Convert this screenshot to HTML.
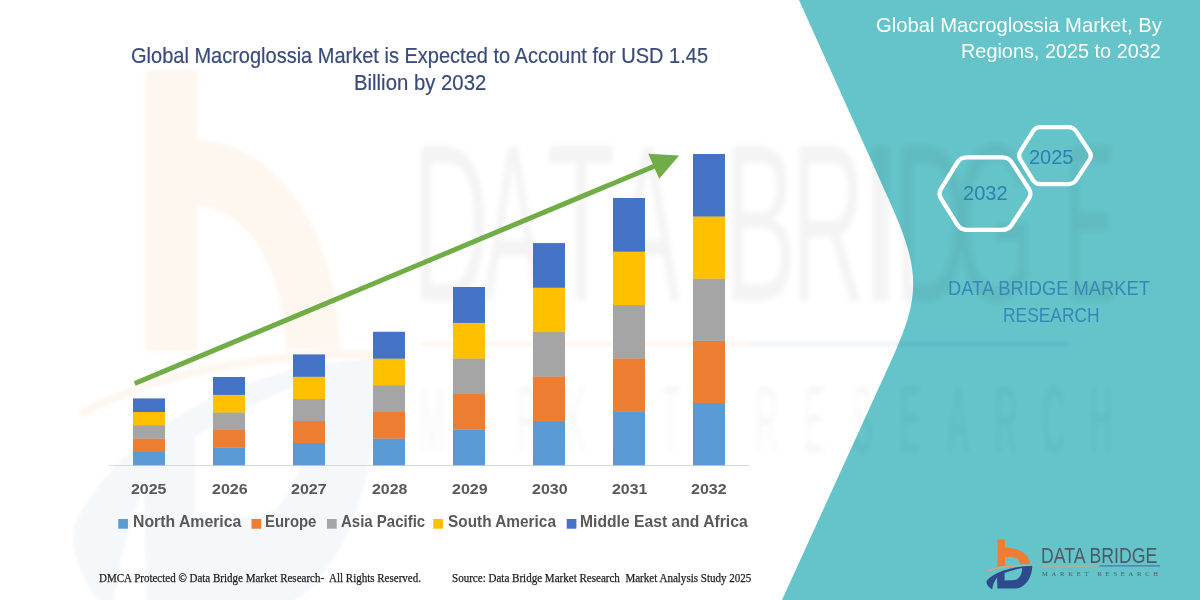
<!DOCTYPE html>
<html><head><meta charset="utf-8">
<style>
html,body{margin:0;padding:0;}
body{width:1200px;height:600px;position:relative;overflow:hidden;background:#fff;font-family:"Liberation Sans",sans-serif;}
.t{position:absolute;white-space:nowrap;line-height:1;transform-origin:0 0;}
svg{position:absolute;left:0;top:0;}
</style></head><body>
<svg width="1200" height="600" viewBox="0 0 1200 600">
  <defs>
    <g id="lb"><path d="M997.5,540.5 Q997.5,539.4 998.6,539.4 H1004 Q1005,539.4 1005,540.5 V547.8 C1013,547.5 1021,550 1026,555 C1028.5,558 1029.8,561 1030,564 L1020.2,564.3 C1019.5,560 1017,557.3 1012,557 L1005,556.9 V565.7 L997.5,566.4 Z"/></g>
    <g id="ls"><path d="M987.4,570.9 Q1006,565 1034.2,565.5" fill="none"/></g>
    <g id="ld"><path fill-rule="evenodd" d="M986.6,581 C993,573 1010,566.5 1032.2,565.8 C1032.3,573 1029.5,581 1023.5,585.5 C1021,587.6 1018.5,588.4 1016,588.4 L997.4,588.4 L997,577.5 C994.5,581 992.8,585 992.2,589.4 C988.5,587 986,584 986.6,581 Z M1004.6,572.9 C1010,571 1016,569 1022,567.9 C1022.5,572 1020.5,577 1016.7,579.6 C1014,580.4 1010,580.4 1004.6,580.4 Z"/></g>
    <filter id="bl" x="-10%" y="-10%" width="120%" height="120%"><feGaussianBlur stdDeviation="1.5"/></filter>
    <filter id="bl2" x="-10%" y="-10%" width="120%" height="120%"><feGaussianBlur stdDeviation="2.6"/></filter>
  </defs>
  <path d="M799,0 L889,200 C920.5,270 921.1,295 891.5,360 L782,600 L1200,600 L1200,0 Z" fill="#64c4c9"/>
  <g filter="url(#bl)"><path d="M145,76 Q145,70 151,70 H192 Q198,70 198,76 V140 A142,210 0 0 1 340,350 H285 A87,143 0 0 0 198,207 V352 H145 Z" fill="#ed7d31" fill-opacity="0.06"/></g>
  <g filter="url(#bl)"><g transform="translate(147.5,67.5) scale(6.7,11) translate(-997.5,-539.4)">
    
    <use href="#ls" stroke="#ed7d31" stroke-opacity="0.06" stroke-width="0.8"/>
    <use href="#ld" fill="#2e4a8a" fill-opacity="0.045"/>
  </g></g>
  <g filter="url(#bl2)" fill="#000" fill-opacity="0.045"><text transform="translate(412.5,301) scale(0.474,1)" font-family="Liberation Sans" font-size="225">D</text><text transform="translate(483.0,301) scale(0.400,1)" font-family="Liberation Sans" font-size="225">A</text><text transform="translate(546.8,301) scale(0.498,1)" font-family="Liberation Sans" font-size="225">T</text><text transform="translate(616.0,301) scale(0.426,1)" font-family="Liberation Sans" font-size="225">A</text><text transform="translate(723.2,301) scale(0.491,1)" font-family="Liberation Sans" font-size="225">B</text><text transform="translate(790.7,301) scale(0.459,1)" font-family="Liberation Sans" font-size="225">R</text><text transform="translate(855.8,301) scale(0.800,1)" font-family="Liberation Sans" font-size="225">I</text><text transform="translate(893.7,301) scale(0.459,1)" font-family="Liberation Sans" font-size="225">D</text><text transform="translate(954.8,301) scale(0.459,1)" font-family="Liberation Sans" font-size="225">G</text><text transform="translate(1065.0,301) scale(0.333,1)" font-family="Liberation Sans" font-size="225">E</text><text transform="translate(432.0,452) scale(0.33,1)" text-anchor="middle" font-family="Liberation Sans" font-size="94" fill-opacity="0.03">M</text><text transform="translate(479.8,452) scale(0.33,1)" text-anchor="middle" font-family="Liberation Sans" font-size="94" fill-opacity="0.03">A</text><text transform="translate(527.6,452) scale(0.33,1)" text-anchor="middle" font-family="Liberation Sans" font-size="94" fill-opacity="0.03">R</text><text transform="translate(575.4,452) scale(0.33,1)" text-anchor="middle" font-family="Liberation Sans" font-size="94" fill-opacity="0.03">K</text><text transform="translate(623.2,452) scale(0.33,1)" text-anchor="middle" font-family="Liberation Sans" font-size="94" fill-opacity="0.03">E</text><text transform="translate(671.0,452) scale(0.33,1)" text-anchor="middle" font-family="Liberation Sans" font-size="94" fill-opacity="0.03">T</text><text transform="translate(766.6,452) scale(0.33,1)" text-anchor="middle" font-family="Liberation Sans" font-size="94" fill-opacity="0.03">R</text><text transform="translate(814.4,452) scale(0.33,1)" text-anchor="middle" font-family="Liberation Sans" font-size="94" fill-opacity="0.03">E</text><text transform="translate(862.2,452) scale(0.33,1)" text-anchor="middle" font-family="Liberation Sans" font-size="94" fill-opacity="0.03">S</text><text transform="translate(910.0,452) scale(0.33,1)" text-anchor="middle" font-family="Liberation Sans" font-size="94" fill-opacity="0.03">E</text><text transform="translate(957.8,452) scale(0.33,1)" text-anchor="middle" font-family="Liberation Sans" font-size="94" fill-opacity="0.03">A</text><text transform="translate(1005.6,452) scale(0.33,1)" text-anchor="middle" font-family="Liberation Sans" font-size="94" fill-opacity="0.03">R</text><text transform="translate(1053.4,452) scale(0.33,1)" text-anchor="middle" font-family="Liberation Sans" font-size="94" fill-opacity="0.03">C</text><text transform="translate(1101.2,452) scale(0.33,1)" text-anchor="middle" font-family="Liberation Sans" font-size="94" fill-opacity="0.03">H</text></g>
  <g filter="url(#bl)"><rect x="420" y="341" width="330" height="6" fill="#ed7d31" fill-opacity="0.06"/><rect x="750" y="341" width="320" height="6" fill="#2e4a8a" fill-opacity="0.05"/></g>
  <rect x="109" y="465" width="641" height="1" fill="#d9d9d9"/>
  <rect x="133" y="451.68" width="32" height="13.62" fill="#5b9bd5"/><rect x="133" y="438.36" width="32" height="13.62" fill="#ed7d31"/><rect x="133" y="425.04" width="32" height="13.62" fill="#a5a5a5"/><rect x="133" y="411.72" width="32" height="13.62" fill="#ffc000"/><rect x="133" y="398.40" width="32" height="13.62" fill="#4472c4"/><rect x="213" y="447.40" width="32" height="17.90" fill="#5b9bd5"/><rect x="213" y="429.80" width="32" height="17.90" fill="#ed7d31"/><rect x="213" y="412.20" width="32" height="17.90" fill="#a5a5a5"/><rect x="213" y="394.60" width="32" height="17.90" fill="#ffc000"/><rect x="213" y="377.00" width="32" height="17.90" fill="#4472c4"/><rect x="293" y="442.88" width="32" height="22.42" fill="#5b9bd5"/><rect x="293" y="420.76" width="32" height="22.42" fill="#ed7d31"/><rect x="293" y="398.64" width="32" height="22.42" fill="#a5a5a5"/><rect x="293" y="376.52" width="32" height="22.42" fill="#ffc000"/><rect x="293" y="354.40" width="32" height="22.42" fill="#4472c4"/><rect x="373" y="438.35" width="32" height="26.95" fill="#5b9bd5"/><rect x="373" y="411.70" width="32" height="26.95" fill="#ed7d31"/><rect x="373" y="385.05" width="32" height="26.95" fill="#a5a5a5"/><rect x="373" y="358.40" width="32" height="26.95" fill="#ffc000"/><rect x="373" y="331.75" width="32" height="26.95" fill="#4472c4"/><rect x="453" y="429.40" width="32" height="35.90" fill="#5b9bd5"/><rect x="453" y="393.80" width="32" height="35.90" fill="#ed7d31"/><rect x="453" y="358.20" width="32" height="35.90" fill="#a5a5a5"/><rect x="453" y="322.60" width="32" height="35.90" fill="#ffc000"/><rect x="453" y="287.00" width="32" height="35.90" fill="#4472c4"/><rect x="533" y="420.62" width="32" height="44.68" fill="#5b9bd5"/><rect x="533" y="376.24" width="32" height="44.68" fill="#ed7d31"/><rect x="533" y="331.86" width="32" height="44.68" fill="#a5a5a5"/><rect x="533" y="287.48" width="32" height="44.68" fill="#ffc000"/><rect x="533" y="243.10" width="32" height="44.68" fill="#4472c4"/><rect x="613" y="411.60" width="32" height="53.70" fill="#5b9bd5"/><rect x="613" y="358.20" width="32" height="53.70" fill="#ed7d31"/><rect x="613" y="304.80" width="32" height="53.70" fill="#a5a5a5"/><rect x="613" y="251.40" width="32" height="53.70" fill="#ffc000"/><rect x="613" y="198.00" width="32" height="53.70" fill="#4472c4"/><rect x="693" y="402.80" width="32" height="62.50" fill="#5b9bd5"/><rect x="693" y="340.60" width="32" height="62.50" fill="#ed7d31"/><rect x="693" y="278.40" width="32" height="62.50" fill="#a5a5a5"/><rect x="693" y="216.20" width="32" height="62.50" fill="#ffc000"/><rect x="693" y="154.00" width="32" height="62.50" fill="#4472c4"/>
  <line x1="134.7" y1="383.5" x2="656" y2="165.5" stroke="#70ad47" stroke-width="5"/>
  <polygon points="679.2,155.4 648.3,153.75 659.2,178.75" fill="#70ad47"/>
  <path d="M941.16,188.60 L957.34,162.50 Q960.50,157.40 966.50,157.40 L1002.50,157.40 Q1008.50,157.40 1011.76,162.44 L1028.74,188.66 Q1032.00,193.70 1028.73,198.73 L1011.77,224.77 Q1008.50,229.80 1002.50,229.80 L966.50,229.80 Q960.50,229.80 957.33,224.71 L941.17,198.79 Q938.00,193.70 941.16,188.60 Z" fill="none" stroke="#fff" stroke-width="4.3"/>
  <path d="M1020.44,151.45 L1032.86,131.45 Q1035.50,127.20 1040.50,127.20 L1068.50,127.20 Q1073.50,127.20 1076.24,131.38 L1089.46,151.52 Q1092.20,155.70 1089.45,159.88 L1076.25,179.92 Q1073.50,184.10 1068.50,184.10 L1040.50,184.10 Q1035.50,184.10 1032.86,179.86 L1020.44,159.94 Q1017.80,155.70 1020.44,151.45 Z" fill="none" stroke="#fff" stroke-width="4.3"/>
  <rect x="118.25" y="519" width="9.7" height="9.7" fill="#5b9bd5"/><rect x="251.5" y="519" width="9.7" height="9.7" fill="#ed7d31"/><rect x="327" y="519" width="9.7" height="9.7" fill="#a5a5a5"/><rect x="433.2" y="519" width="9.7" height="9.7" fill="#ffc000"/><rect x="566.7" y="519" width="9.7" height="9.7" fill="#4472c4"/>
  <use href="#lb" fill="#ef7b35"/>
  <use href="#ls" stroke="#e8a070" stroke-width="1.3"/>
  <use href="#ld" fill="#2f4a8c"/>
  <rect x="1041.5" y="565.5" width="58" height="1.2" fill="#c9a888"/>
  <rect x="1099.5" y="565.3" width="60.5" height="1.2" fill="#4a74a8"/>
  <text x="1042" y="575.5" font-family="Liberation Serif" font-size="6.5" fill="#4d5b66" textLength="116" lengthAdjust="spacing">MARKET   RESEARCH</text>
</svg>
<div class="t" style="left:130.75px;top:44.85px;font-size:21.15px;color:#394b7c;font-weight:normal;font-family:'Liberation Sans',sans-serif;transform:scaleX(0.9462);-webkit-text-stroke:0.2px #394b7c">Global Macroglossia Market is Expected to Account for USD 1.45</div>
<div class="t" style="left:353.87px;top:71.85px;font-size:21.15px;color:#394b7c;font-weight:normal;font-family:'Liberation Sans',sans-serif;transform:scaleX(0.9619);-webkit-text-stroke:0.2px #394b7c">Billion by 2032</div>
<div class="t" style="left:875.99px;top:13.66px;font-size:21.08px;color:#ffffff;font-weight:normal;font-family:'Liberation Sans',sans-serif;transform:scaleX(0.9607);">Global Macroglossia Market, By</div>
<div class="t" style="left:961.41px;top:40.88px;font-size:20.93px;color:#ffffff;font-weight:normal;font-family:'Liberation Sans',sans-serif;transform:scaleX(0.9491);">Regions, 2025 to 2032</div>
<div class="t" style="left:962.80px;top:182.61px;font-size:20.43px;color:#2f7fb0;font-weight:normal;font-family:'Liberation Sans',sans-serif;transform:scaleX(0.9822);">2032</div>
<div class="t" style="left:1029.10px;top:146.63px;font-size:20.28px;color:#2f7fb0;font-weight:normal;font-family:'Liberation Sans',sans-serif;transform:scaleX(0.9867);">2025</div>
<div class="t" style="left:948.23px;top:278.13px;font-size:20.64px;color:#3888b6;font-weight:normal;font-family:'Liberation Sans',sans-serif;transform:scaleX(0.8883);">DATA BRIDGE MARKET</div>
<div class="t" style="left:1003.36px;top:304.98px;font-size:20.93px;color:#3888b6;font-weight:normal;font-family:'Liberation Sans',sans-serif;transform:scaleX(0.8313);">RESEARCH</div>
<div class="t" style="left:1040.58px;top:544.50px;font-size:22.09px;color:#4d5b66;font-weight:normal;font-family:'Liberation Sans',sans-serif;transform:scaleX(0.8019);">DATA BRIDGE</div>
<div class="t" style="left:98.72px;top:572.91px;font-size:11.45px;color:#1e1e1e;font-weight:normal;font-family:'Liberation Serif',serif;transform:scaleX(0.9612);-webkit-text-stroke:0.25px #1e1e1e">DMCA Protected &#169; Data Bridge Market Research-&nbsp; All Rights Reserved.</div>
<div class="t" style="left:452.28px;top:572.75px;font-size:11.76px;color:#1e1e1e;font-weight:normal;font-family:'Liberation Serif',serif;transform:scaleX(0.9390);-webkit-text-stroke:0.25px #1e1e1e">Source: Data Bridge Market Research&nbsp; Market Analysis Study 2025</div>
<div class="t" style="left:130.52px;top:481.05px;font-size:15.00px;color:#595959;font-weight:bold;font-family:'Liberation Sans',sans-serif;transform:scaleX(1.0637);">2025</div>
<div class="t" style="left:211.92px;top:481.05px;font-size:15.00px;color:#595959;font-weight:bold;font-family:'Liberation Sans',sans-serif;transform:scaleX(1.0687);">2026</div>
<div class="t" style="left:291.42px;top:481.05px;font-size:15.00px;color:#595959;font-weight:bold;font-family:'Liberation Sans',sans-serif;transform:scaleX(1.0711);">2027</div>
<div class="t" style="left:371.92px;top:481.05px;font-size:15.00px;color:#595959;font-weight:bold;font-family:'Liberation Sans',sans-serif;transform:scaleX(1.0637);">2028</div>
<div class="t" style="left:451.72px;top:481.05px;font-size:15.00px;color:#595959;font-weight:bold;font-family:'Liberation Sans',sans-serif;transform:scaleX(1.0687);">2029</div>
<div class="t" style="left:531.62px;top:481.05px;font-size:15.00px;color:#595959;font-weight:bold;font-family:'Liberation Sans',sans-serif;transform:scaleX(1.0687);">2030</div>
<div class="t" style="left:611.52px;top:481.05px;font-size:15.00px;color:#595959;font-weight:bold;font-family:'Liberation Sans',sans-serif;transform:scaleX(1.0637);">2031</div>
<div class="t" style="left:691.32px;top:481.05px;font-size:15.00px;color:#595959;font-weight:bold;font-family:'Liberation Sans',sans-serif;transform:scaleX(1.0687);">2032</div>
<div class="t" style="left:132.97px;top:514.22px;font-size:15.99px;color:#595959;font-weight:bold;font-family:'Liberation Sans',sans-serif;transform:scaleX(0.9884);">North America</div>
<div class="t" style="left:265.03px;top:514.22px;font-size:15.99px;color:#595959;font-weight:bold;font-family:'Liberation Sans',sans-serif;transform:scaleX(0.9339);">Europe</div>
<div class="t" style="left:341.20px;top:514.22px;font-size:15.99px;color:#595959;font-weight:bold;font-family:'Liberation Sans',sans-serif;transform:scaleX(0.9379);">Asia Pacific</div>
<div class="t" style="left:448.32px;top:514.22px;font-size:15.99px;color:#595959;font-weight:bold;font-family:'Liberation Sans',sans-serif;transform:scaleX(0.9620);">South America</div>
<div class="t" style="left:580.48px;top:514.22px;font-size:15.99px;color:#595959;font-weight:bold;font-family:'Liberation Sans',sans-serif;transform:scaleX(0.9814);">Middle East and Africa</div>
</body></html>
